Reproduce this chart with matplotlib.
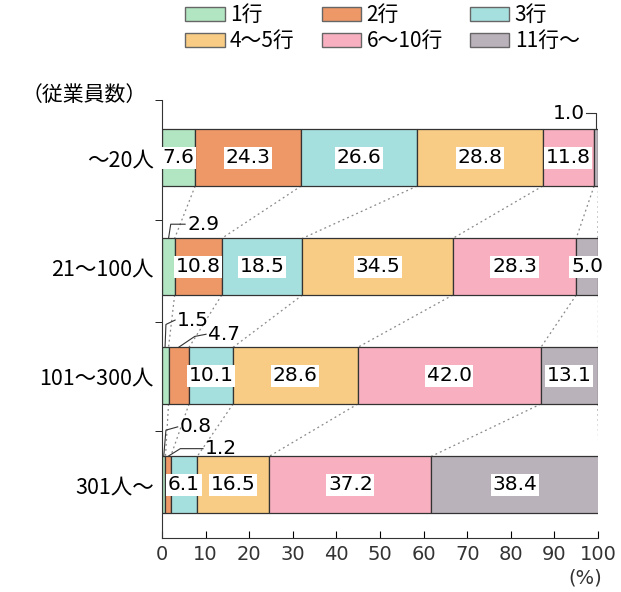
import numpy as np
import matplotlib
matplotlib.use('Agg')
from matplotlib import pyplot as plt
from matplotlib.patches import Patch

plt.rcParams['font.family'] = ['Noto Sans CJK JP', 'DejaVu Sans']

categories = ['～20人', '21～100人', '101～300人', '301人～']
series = ['1行', '2行', '3行', '4～5行', '6～10行', '11行～']
v_1 = [7.6, 2.9, 1.5, 0.8]
v_2 = [24.3, 10.8, 4.7, 1.2]
v_3 = [26.6, 18.5, 10.1, 6.1]
v_4 = [28.8, 34.5, 28.6, 16.5]
v_6 = [11.8, 28.3, 42.0, 37.2]
v_11 = [1.0, 5.0, 13.1, 38.4]
xticks = [0, 10, 20, 30, 40, 50, 60, 70, 80, 90, 100]

colors = ['#b2e6c2', '#ee9868', '#a6e0de', '#f8cc84', '#f8b0c0', '#bab2ba']

data = np.array([v_1, v_2, v_3, v_4, v_6, v_11]).T   # rows = categories
cum = np.cumsum(data, axis=1)
left = cum - data

fig = plt.figure(figsize=(6.21, 5.92), dpi=100)
ax = fig.add_axes([162/621, 54/592, 436/621, 438/592])

h = 0.52
ypos = np.arange(len(categories))
for j in range(len(series)):
    ax.barh(ypos, data[:, j], left=left[:, j], height=h, color=colors[j],
            edgecolor='#333333', linewidth=0.9, zorder=2)

# dotted connectors between bars
for i in range(len(categories) - 1):
    for j in range(len(series)):
        ax.plot([cum[i, j], cum[i + 1, j]], [i + h/2, i + 1 - h/2],
                ls=(0, (1.5, 2.5)), color='#888888', lw=0.9, zorder=1)

# labels inside bars
box = dict(boxstyle='square,pad=0.08', fc='white', ec='none')
for i in range(len(categories)):
    for j in range(len(series)):
        v = data[i, j]
        if v >= 5:
            ax.text(left[i, j] + v/2, i, '%.1f' % v, ha='center', va='center',
                    fontsize=14.5, bbox=box, zorder=4, family='DejaVu Sans')

# small values with leader lines
def small(txt, tx, ty, xs, ys):
    ax.plot(xs, ys, color='#333333', lw=0.8, zorder=3, clip_on=False)
    ax.text(tx, ty, txt, ha='left', va='center', fontsize=14.5, family='DejaVu Sans')

top = lambda i: i - h/2
small('1.0', 89.6, -0.41, [97.2, 99.5, 99.5], [-0.41, -0.41, top(0)])
small('2.9', 5.8, 0.61, [5.3, 2.0, 1.5], [0.61, 0.61, top(1)])
small('1.5', 3.5, 1.49, [0.7, 0.9, 3.0], [top(2), 1.53, 1.49])
small('4.7', 10.6, 1.62, [3.8, 7.5, 10.1], [top(2), 1.64, 1.62])
small('0.8', 4.1, 2.47, [0.4, 0.9, 3.6], [top(3), 2.50, 2.47])
small('1.2', 9.9, 2.67, [1.4, 4.2, 9.4], [top(3), 2.67, 2.67])

ax.set_xlim(0, 100)
ax.set_ylim(3.49, -0.53)
ax.set_yticks(ypos)
ax.set_yticklabels(categories, fontsize=15.5)
ax.set_yticks([-0.53, 0.57, 1.51, 2.51], minor=True)
ax.tick_params(axis='y', which='major', length=0, pad=6)
ax.tick_params(axis='y', which='minor', length=5, direction='out')
ax.set_xticks(xticks)
ax.set_xticklabels([str(t) for t in xticks], fontsize=14, color='#333333',
                   family='DejaVu Sans')
ax.tick_params(axis='x', direction='in', length=5, pad=5)
for s in ['top', 'right']:
    ax.spines[s].set_visible(False)
ax.spines['left'].set_color('#333333')
ax.spines['bottom'].set_color('#333333')

fig.text(0.942, 0.024, '(%)', ha='center', va='center', fontsize=14,
         color='#333333', family='DejaVu Sans')
fig.text(0.035, 0.84, '（従業員数）', ha='left', va='center', fontsize=15)

order = [0, 3, 1, 4, 2, 5]
handles = [Patch(facecolor=colors[k], edgecolor='#666666', lw=1) for k in order]
fig.legend(handles, [series[k] for k in order], ncol=3, loc='upper left',
           bbox_to_anchor=(185/621, 1 - 4/592), frameon=False, fontsize=15,
           handlelength=1.9, handleheight=0.67, handletextpad=0.25,
           columnspacing=1.3, labelspacing=0.2, borderaxespad=0, borderpad=0)

fig.savefig('out.png', dpi=100)
